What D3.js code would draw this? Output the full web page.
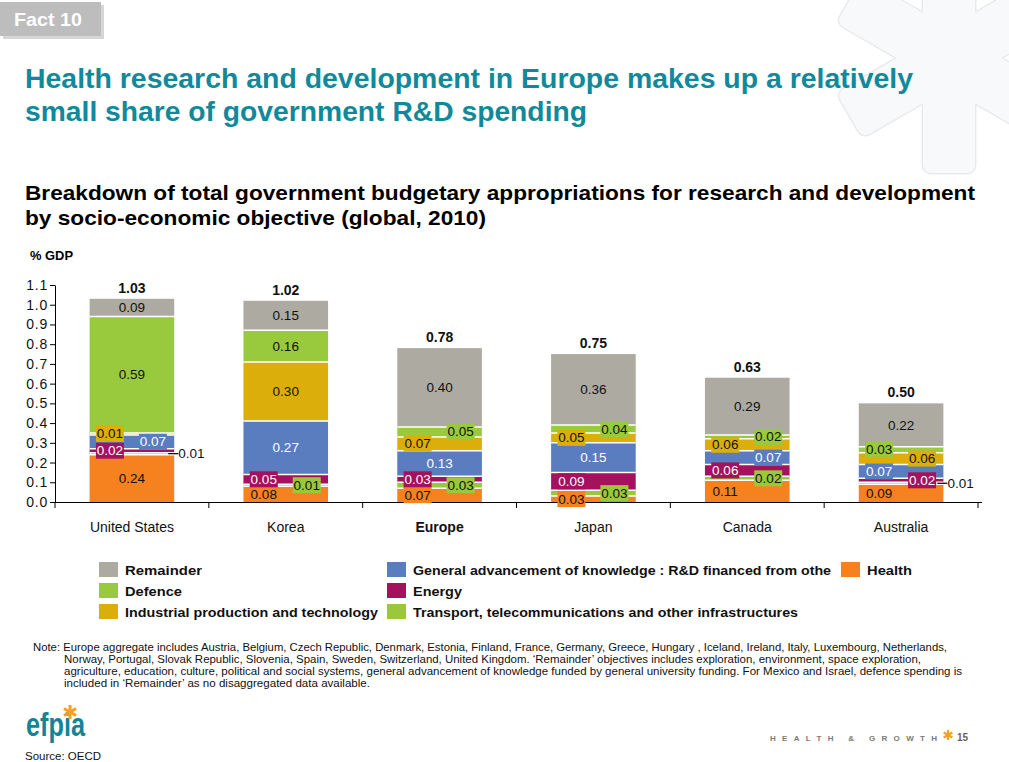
<!DOCTYPE html>
<html><head><meta charset="utf-8">
<script src="https://cdn.jsdelivr.net/npm/d3@7"></script>
<style>body{margin:0;background:#fff}svg{display:block;font-family:Arial,"Liberation Sans",sans-serif}</style>
</head><body><svg id="c" width="1009" height="762"></svg>
<script>
// ---------- DATA ----------
const categories = ["United States", "Korea", "Europe", "Japan", "Canada", "Australia"];
const health     = [0.24, 0.08, 0.07, 0.03, 0.11, 0.09];
const transport  = [0.01, 0.01, 0.03, 0.03, 0.02, 0.01];
const energy     = [0.02, 0.05, 0.03, 0.09, 0.06, 0.02];
const generalAdv = [0.07, 0.27, 0.13, 0.15, 0.07, 0.07];
const industrial = [0.01, 0.30, 0.07, 0.05, 0.06, 0.06];
const defence    = [0.59, 0.16, 0.05, 0.04, 0.02, 0.03];
const remainder  = [0.09, 0.15, 0.40, 0.36, 0.29, 0.22];
const totals     = [1.03, 1.02, 0.78, 0.75, 0.63, 0.50];
const yTicks     = [0, 0.1, 0.2, 0.3, 0.4, 0.5, 0.6, 0.7, 0.8, 0.9, 1.0, 1.1];

// ---------- STYLE ----------
const keys = ["health", "transport", "energy", "generalAdv", "industrial", "defence", "remainder"];
const colors = {
  health: "#F5821F", transport: "#9BC83B", energy: "#A6115E", generalAdv: "#5A7DBF",
  industrial: "#DCAE0C", defence: "#99C93C", remainder: "#ADAAA2"
};
const labelColor = {health:"#111", transport:"#111", energy:"#fff", generalAdv:"#fff", industrial:"#111", defence:"#111", remainder:"#111"};
// label placement: c = centre, l = left box, r = right box, o = outside with leader
const placement = {
  health:     ["c","l","l","l","l","l"],
  transport:  ["o","r","r","r","r","o"],
  energy:     ["l","l","l","l","l","r"],
  generalAdv: ["r","c","c","c","r","l"],
  industrial: ["l","c","l","l","l","r"],
  defence:    ["c","c","r","r","r","l"],
  remainder:  ["c","c","c","c","c","c"]
};
const legendItems = [
  {key:"remainder",  text:"Remainder", col:0, row:0, w:77},
  {key:"defence",    text:"Defence", col:0, row:1, w:57},
  {key:"industrial", text:"Industrial production and technology", col:0, row:2, w:253},
  {key:"generalAdv", text:"General advancement of knowledge : R&D financed from othe", col:1, row:0, w:418},
  {key:"energy",     text:"Energy", col:1, row:1, w:49},
  {key:"transport",  text:"Transport, telecommunications and other infrastructures", col:1, row:2, w:385},
  {key:"health",     text:"Health", col:2, row:0, w:45}
];
const noteLines = [
  {t:"Note: Europe aggregate includes Austria, Belgium, Czech Republic, Denmark, Estonia, Finland, France, Germany, Greece, Hungary , Iceland, Ireland, Italy, Luxembourg, Netherlands,", x:33, w:914},
  {t:"Norway, Portugal, Slovak Republic, Slovenia, Spain, Sweden, Switzerland, United Kingdom. \u2018Remainder\u2019 objectives includes exploration, environment, space exploration,", x:64, w:857},
  {t:"agriculture, education, culture, political and social systems, general advancement of knowledge funded by general university funding. For Mexico and Israel, defence spending is", x:64, w:898},
  {t:"included in \u2018Remainder\u2019 as no disaggregated data available.", x:64, w:306}
];

const svg = d3.select("#c");

// ---------- watermark asterisk ----------
const wm = svg.append("g").attr("transform", "translate(949,58)");
[90, 30, 150].forEach(a => wm.append("rect").attr("x", -115).attr("y", -26).attr("width", 230).attr("height", 52)
  .attr("rx", 8).attr("transform", `rotate(${a})`).attr("fill", "none").attr("stroke", "#E8EBEE").attr("stroke-width", 3));
[90, 30, 150].forEach(a => wm.append("rect").attr("x", -115).attr("y", -26).attr("width", 230).attr("height", 52)
  .attr("rx", 8).attr("transform", `rotate(${a})`).attr("fill", "#F8F9FB"));

// ---------- Fact box ----------
svg.append("rect").attr("x", 3).attr("y", 5).attr("width", 101).attr("height", 34).attr("fill", "#D6D6D6");
svg.append("rect").attr("x", 0).attr("y", 2).attr("width", 101).attr("height", 34).attr("fill", "#BDBDBD");
svg.append("text").attr("x", 14).attr("y", 26).attr("fill", "#fff").attr("font-weight", "bold").attr("font-size", 18.5)
  .attr("textLength", 68).attr("lengthAdjust", "spacingAndGlyphs").text("Fact 10");

// ---------- Titles ----------
svg.append("text").attr("x", 25).attr("y", 88).attr("fill", "#12899A").attr("font-weight", "bold").attr("font-size", 28)
  .attr("textLength", 888).attr("lengthAdjust", "spacingAndGlyphs").text("Health research and development in Europe makes up a relatively");
svg.append("text").attr("x", 25).attr("y", 121).attr("fill", "#12899A").attr("font-weight", "bold").attr("font-size", 28)
  .attr("textLength", 562).attr("lengthAdjust", "spacingAndGlyphs").text("small share of government R&D spending");
svg.append("text").attr("x", 25).attr("y", 200).attr("fill", "#000").attr("font-weight", "bold").attr("font-size", 20.5)
  .attr("textLength", 950).attr("lengthAdjust", "spacingAndGlyphs").text("Breakdown of total government budgetary appropriations for research and development");
svg.append("text").attr("x", 25).attr("y", 225).attr("fill", "#000").attr("font-weight", "bold").attr("font-size", 20.5)
  .attr("textLength", 461).attr("lengthAdjust", "spacingAndGlyphs").text("by socio-economic objective (global, 2010)");
svg.append("text").attr("x", 30).attr("y", 260).attr("font-weight", "bold").attr("font-size", 13)
  .attr("textLength", 43).attr("lengthAdjust", "spacingAndGlyphs").text("% GDP");

// ---------- Scales ----------
const x = d3.scaleBand().domain(categories).range([55, 978]).paddingInner(0.45).paddingOuter(0.225);
const y = d3.scaleLinear().domain([0, 1.1]).range([502, 285]);

// y axis
const yAxis = svg.append("g").attr("transform", "translate(55,0)")
  .call(d3.axisLeft(y).tickValues(yTicks).tickFormat(d3.format(".1f")).tickSize(5).tickSizeOuter(0));
yAxis.select(".domain").attr("stroke", "#000");
yAxis.selectAll(".tick line").attr("stroke", "#000");
yAxis.selectAll(".tick text").attr("x", -7).attr("font-size", 14).attr("font-family", "Arial, 'Liberation Sans', sans-serif").attr("fill", "#111").attr("letter-spacing", 0.8);

// x axis line and ticks at category boundaries
const step = x.step();
const bounds = d3.range(categories.length + 1).map(i => 55 + i * step);
svg.append("line").attr("x1", 55).attr("x2", 982).attr("y1", 502.5).attr("y2", 502.5).attr("stroke", "#000");
svg.selectAll(".xt").data(bounds).join("line").attr("x1", d => d).attr("x2", d => d).attr("y1", 502).attr("y2", 508).attr("stroke", "#000");
svg.selectAll(".xl").data(categories).join("text")
  .attr("x", d => x(d) + x.bandwidth() / 2).attr("y", 532).attr("text-anchor", "middle").attr("font-size", 14)
  .attr("font-weight", d => d === "Europe" ? "bold" : "normal").attr("fill", "#111").text(d => d);

// ---------- Bars ----------
const table = categories.map((c, i) => ({
  cat: c, health: health[i], transport: transport[i], energy: energy[i], generalAdv: generalAdv[i],
  industrial: industrial[i], defence: defence[i], remainder: remainder[i]
}));
const stacked = d3.stack().keys(keys)(table);
const fmt = d3.format(".2f");

const gBars = svg.append("g");
stacked.forEach(layer => {
  gBars.selectAll(null).data(layer).join("rect")
    .attr("x", d => x(d.data.cat)).attr("width", x.bandwidth())
    .attr("y", d => y(d[1])).attr("height", d => y(d[0]) - y(d[1]))
    .attr("fill", colors[layer.key]);
});
// white separators
stacked.slice(1).forEach(layer => {
  gBars.selectAll(null).data(layer).join("line")
    .attr("x1", d => x(d.data.cat)).attr("x2", d => x(d.data.cat) + x.bandwidth())
    .attr("y1", d => y(d[0])).attr("y2", d => y(d[0]))
    .attr("stroke", "#fff").attr("stroke-width", 1.5);
});

// labels
const gLab = svg.append("g").attr("font-size", 13.5);
stacked.forEach(layer => {
  layer.forEach((d, i) => {
    const p = placement[layer.key][i];
    const cx = x(d.data.cat) + x.bandwidth() / 2;
    const cy = y((d[0] + d[1]) / 2);
    const txt = fmt(d.data[layer.key]);
    if (p === "o") {
      const right = x(d.data.cat) + x.bandwidth();
      gLab.append("line").attr("x1", right - 6).attr("x2", right + 4).attr("y1", cy).attr("y2", cy).attr("stroke", "#000").attr("stroke-width", 1.2);
      gLab.append("text").attr("x", right + 4).attr("y", cy + 4.5).attr("fill", "#111").text(txt);
      return;
    }
    const lx = p === "l" ? cx - 22 : p === "r" ? cx + 21 : cx;
    if (p !== "c") {
      gLab.append("rect").attr("x", lx - 14).attr("y", cy - 8).attr("width", 28).attr("height", 16).attr("fill", colors[layer.key]);
    }
    gLab.append("text").attr("x", lx).attr("y", cy + 4.5).attr("text-anchor", "middle").attr("fill", labelColor[layer.key]).text(txt);
  });
});

// totals
svg.selectAll(".tot").data(categories).join("text")
  .attr("x", d => x(d) + x.bandwidth() / 2).attr("y", (d, i) => y(totals[i]) - 6)
  .attr("text-anchor", "middle").attr("font-weight", "bold").attr("font-size", 14).attr("fill", "#111")
  .text((d, i) => fmt(totals[i]));

// ---------- Legend ----------
const colX = [99, 387, 841];
const rowY = [570, 591, 612];
const gLeg = svg.append("g");
legendItems.forEach(it => {
  gLeg.append("rect").attr("x", colX[it.col]).attr("y", rowY[it.row] - 8).attr("width", 19).attr("height", 15).attr("fill", colors[it.key]);
  gLeg.append("text").attr("x", colX[it.col] + 26).attr("y", rowY[it.row] + 5).attr("font-weight", "bold").attr("font-size", 13.5)
    .attr("fill", "#111").attr("textLength", it.w).attr("lengthAdjust", "spacingAndGlyphs").text(it.text);
});

// ---------- Note ----------
noteLines.forEach((l, i) => {
  svg.append("text").attr("x", l.x).attr("y", 651 + i * 12).attr("font-size", 10.5).attr("fill", "#111")
    .attr("textLength", l.w).attr("lengthAdjust", "spacingAndGlyphs").text(l.t);
});

// ---------- Footer ----------
svg.append("text").attr("x", 26).attr("y", 736).attr("font-weight", "bold").attr("font-size", 33).attr("fill", "#12849A")
  .attr("textLength", 59).attr("lengthAdjust", "spacingAndGlyphs").text("efpia");
function asterisk(cx, cy, r, w) {
  const g = svg.append("g").attr("stroke", "#F5A01F").attr("stroke-width", w).attr("stroke-linecap", "butt");
  [90, 30, 150].forEach(a => {
    const rad = a * Math.PI / 180;
    g.append("line").attr("x1", cx - r * Math.cos(rad)).attr("y1", cy - r * Math.sin(rad))
      .attr("x2", cx + r * Math.cos(rad)).attr("y2", cy + r * Math.sin(rad));
  });
}
asterisk(70, 712, 7, 3);
svg.append("text").attr("x", 770).attr("y", 741).attr("font-weight", "bold").attr("font-size", 8).attr("fill", "#7A7A7A")
  .attr("textLength", 167).attr("lengthAdjust", "spacing").text("HEALTH & GROWTH");
asterisk(948, 735, 5, 2.2);
svg.append("text").attr("x", 957).attr("y", 741).attr("font-weight", "bold").attr("font-size", 10).attr("fill", "#666").text("15");
svg.append("text").attr("x", 25).attr("y", 760).attr("font-size", 11.5).attr("fill", "#111").text("Source: OECD");
</script>
</body></html>
